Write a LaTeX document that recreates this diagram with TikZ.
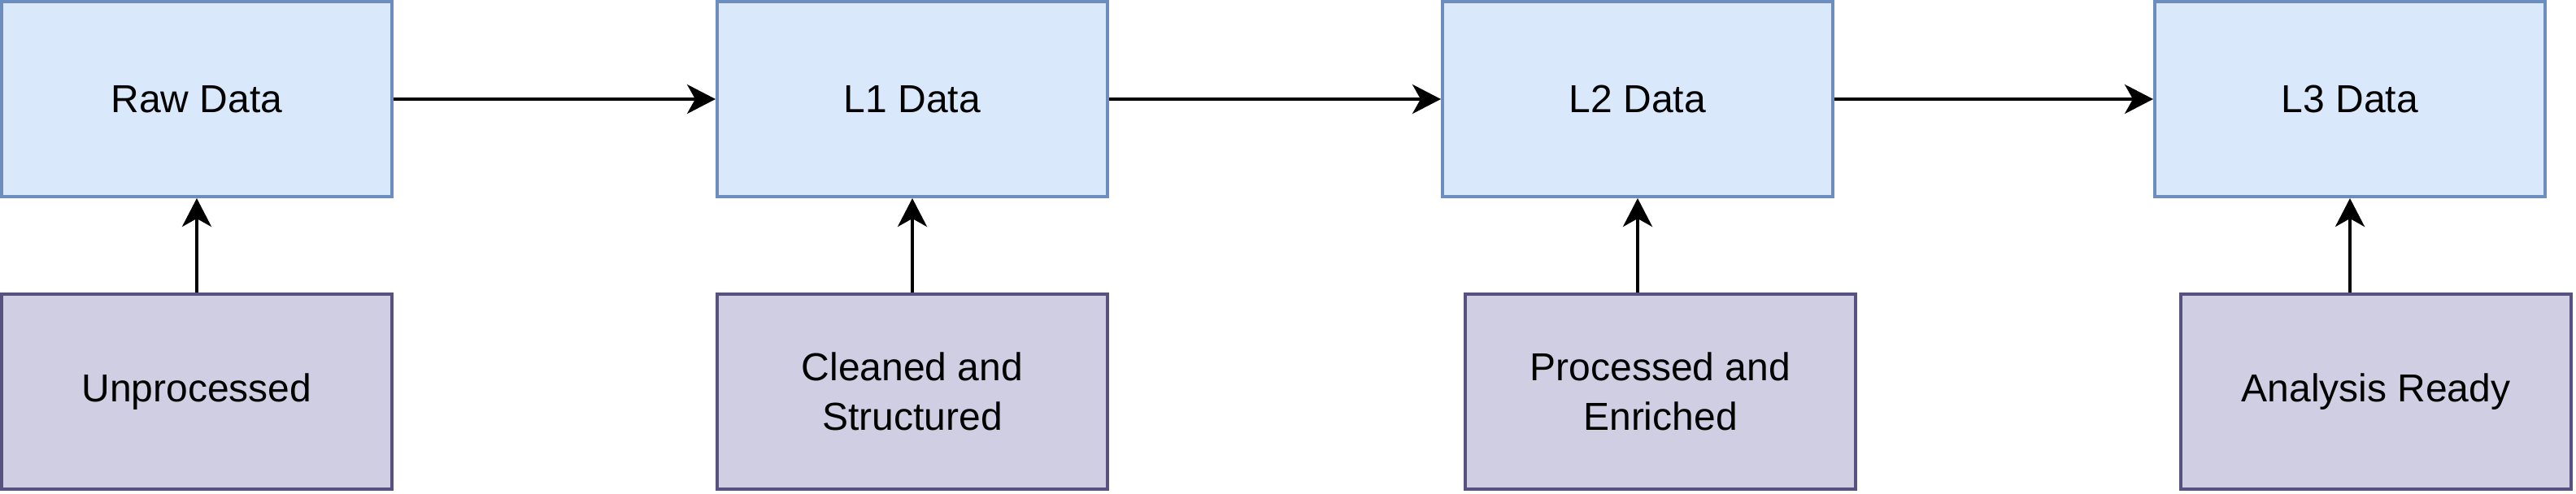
\documentclass[tikz,border=0pt]{standalone}
\usepackage{fontspec}
\setmainfont{Liberation Sans}
\usetikzlibrary{arrows.meta}
\definecolor{stagefill}{HTML}{DAE8FC}
\definecolor{stageline}{HTML}{6C8EBF}
\definecolor{notefill}{HTML}{D0CEE2}
\definecolor{noteline}{HTML}{56517E}
\tikzset{
	stage/.style={draw=stageline, fill=stagefill, line width=1pt, minimum width=120pt, minimum height=60pt, inner sep=0pt, align=center, font=\fontsize{12}{15.25}\selectfont},
	note/.style={stage, draw=noteline, fill=notefill},
	flow/.style={-{Stealth[length=8.75pt, width=9pt, inset=2.5pt]}, line width=1pt}
}
\begin{document}
\begin{tikzpicture}[x=1pt, y=-1pt]
	\useasboundingbox (0, 0) rectangle (792, 152) ;
	% data levels
		\node (raw)[stage] at (60.5, 30.5) {Raw Data} ; 
		\node (l1)[stage] at (280.5, 30.5) {L1 Data} ; 
		\node (l2)[stage] at (503.5, 30.5) {L2 Data} ; 
		\node (l3)[stage] at (722.5, 30.5) {L3 Data} ; 
	% descriptions
		\node (d0)[note] at (60.5, 120.5) {Unprocessed} ; 
		\node (d1)[note] at (280.5, 120.5) {Cleaned and\\Structured} ; 
		\node (d2)[note] at (510.5, 120.5) {Processed and\\Enriched} ; 
		\node (d3)[note] at (730.5, 120.5) {Analysis Ready} ; 
	\draw[flow] (raw) -- (l1) ;
	\draw[flow] (l1) -- (l2) ;
	\draw[flow] (l2) -- (l3) ;
	\draw[flow] (d0.north -| raw) -- (raw.south) ;
	\draw[flow] (d1.north -| l1) -- (l1.south) ;
	\draw[flow] (d2.north -| l2) -- (l2.south) ;
	\draw[flow] (d3.north -| l3) -- (l3.south) ;
\end{tikzpicture}
\end{document}
